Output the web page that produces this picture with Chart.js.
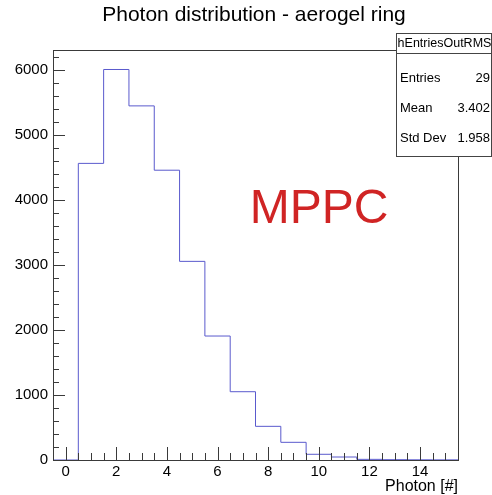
<html lang="en">

<head>
    <meta charset="UTF-8">
    <title>Photon distribution - aerogel ring</title>
    <script src="https://cdn.jsdelivr.net/npm/chart.js@4.4.0/dist/chart.umd.min.js"></script>
    <style>
        body { margin: 0; background: #fff; }
    </style>
</head>

<body>
    <canvas id="chart" width="492" height="495"></canvas>

    <script>
        // histogram bins (photon count)
        const binCenters = [0, 1, 2, 3, 4, 5, 6, 7, 8, 9, 10, 11, 12, 13, 14, 15];
        const binCounts = [0, 4565, 6010, 5450, 4460, 3057, 1908, 1051, 518, 272, 88, 46, 10, 5, 3, 2];

        const xTickValues = [0, 2, 4, 6, 8, 10, 12, 14];
        const yTickValues = [0, 1000, 2000, 3000, 4000, 5000, 6000];

        const titleText = 'Photon distribution - aerogel ring';
        const xTitle = 'Photon [#]';
        const statsName = 'hEntriesOutRMS';
        const statsLabels = ['Entries', 'Mean', 'Std Dev'];
        const statsValues = ['29', '3.402', '1.958'];
        const tagText = 'MPPC';

        // step outline: one point per low edge, plus the last high edge
        const points = binCenters.map((c, i) => ({ x: c - 0.5, y: binCounts[i] }));
        points.push({ x: binCenters[binCenters.length - 1] + 0.5, y: binCounts[binCounts.length - 1] });

        const FONT = '"Liberation Sans", Arial, sans-serif';

        // ROOT style frame, inward ticks and the text boxes
        const rootFrame = {
            id: 'rootFrame',
            afterDraw(chart) {
                const c = chart.ctx;
                const a = chart.chartArea;
                const xs = chart.scales.x;
                const ys = chart.scales.y;
                c.save();
                c.strokeStyle = '#3a3a3a';
                c.lineWidth = 1;

                // frame
                c.strokeRect(a.left + 0.5, a.top + 0.5, a.right - a.left, a.bottom - a.top);

                // x ticks: major every 2, minor every 0.5
                for (let i = 1; i < 32; i++) {
                    const v = -0.5 + i * 0.5;
                    const px = Math.round(xs.getPixelForValue(v)) + 0.5;
                    const len = xTickValues.indexOf(v) >= 0 ? 13 : 7;
                    c.beginPath();
                    c.moveTo(px, a.bottom);
                    c.lineTo(px, a.bottom - len);
                    c.stroke();
                }
                // y ticks: major every 1000, minor every 200
                for (let v = 0; v <= 6200; v += 200) {
                    const py = Math.round(ys.getPixelForValue(v)) + 0.5;
                    const len = yTickValues.indexOf(v) >= 0 ? 12 : 6;
                    c.beginPath();
                    c.moveTo(a.left, py);
                    c.lineTo(a.left + len, py);
                    c.stroke();
                }

                // title
                c.fillStyle = '#000';
                c.font = '21px ' + FONT;
                c.textAlign = 'center';
                c.textBaseline = 'middle';
                c.fillText(titleText, 254, 15);

                // x axis title
                c.font = '16px ' + FONT;
                c.textAlign = 'right';
                c.fillText(xTitle, a.right, 487);

                // MPPC tag
                c.fillStyle = 'rgb(208, 36, 36)';
                c.font = '48px ' + FONT;
                c.textAlign = 'center';
                c.fillText(tagText, 319, 210);

                // stats box
                const bx = 396, by = 33, bw = 95, bh = 123;
                c.fillStyle = '#fff';
                c.fillRect(bx, by, bw, bh);
                c.strokeStyle = '#444';
                c.strokeRect(bx + 0.5, by + 0.5, bw, bh);
                c.beginPath();
                c.moveTo(bx, 53.5);
                c.lineTo(bx + bw, 53.5);
                c.stroke();

                c.fillStyle = '#000';
                c.font = '12.5px ' + FONT;
                c.textAlign = 'center';
                c.fillText(statsName, bx + bw / 2 + 1, 44);
                c.font = '13px ' + FONT;
                const rowY = [78, 108, 138];
                statsLabels.forEach((lab, i) => {
                    c.textAlign = 'left';
                    c.fillText(lab, 400, rowY[i]);
                    c.textAlign = 'right';
                    c.fillText(statsValues[i], 490, rowY[i]);
                });
                c.restore();
            }
        };

        const ctx = document.getElementById('chart').getContext('2d');
        const myChart = new Chart(ctx, {
            type: 'line',
            data: {
                datasets: [{
                    label: 'photons',
                    data: points,
                    stepped: 'before',
                    borderColor: 'rgb(90, 90, 205)',
                    borderWidth: 1,
                    pointRadius: 0,
                    fill: false,
                    tension: 0
                }]
            },
            options: {
                responsive: false,
                animation: false,
                layout: { padding: { top: 50, right: 34, left: 0, bottom: 0 } },
                plugins: {
                    legend: { display: false },
                    tooltip: { enabled: false }
                },
                scales: {
                    x: {
                        type: 'linear',
                        min: -0.5,
                        max: 15.5,
                        grid: { display: false, drawTicks: false },
                        border: { display: false },
                        afterBuildTicks: s => { s.ticks = xTickValues.map(v => ({ value: v })); },
                        afterFit: s => { s.height = 35; },
                        ticks: {
                            padding: 3,
                            maxRotation: 0,
                            color: '#000',
                            font: { family: FONT, size: 15 },
                            callback: v => String(v)
                        }
                    },
                    y: {
                        type: 'linear',
                        min: 0,
                        max: 6310,
                        grid: { display: false, drawTicks: false },
                        border: { display: false },
                        afterBuildTicks: s => { s.ticks = yTickValues.map(v => ({ value: v })); },
                        afterFit: s => { s.width = 53; },
                        ticks: {
                            padding: 5,
                            color: '#000',
                            font: { family: FONT, size: 15 },
                            callback: v => String(v)
                        }
                    }
                }
            },
            plugins: [rootFrame]
        });
    </script>

</body>

</html>
